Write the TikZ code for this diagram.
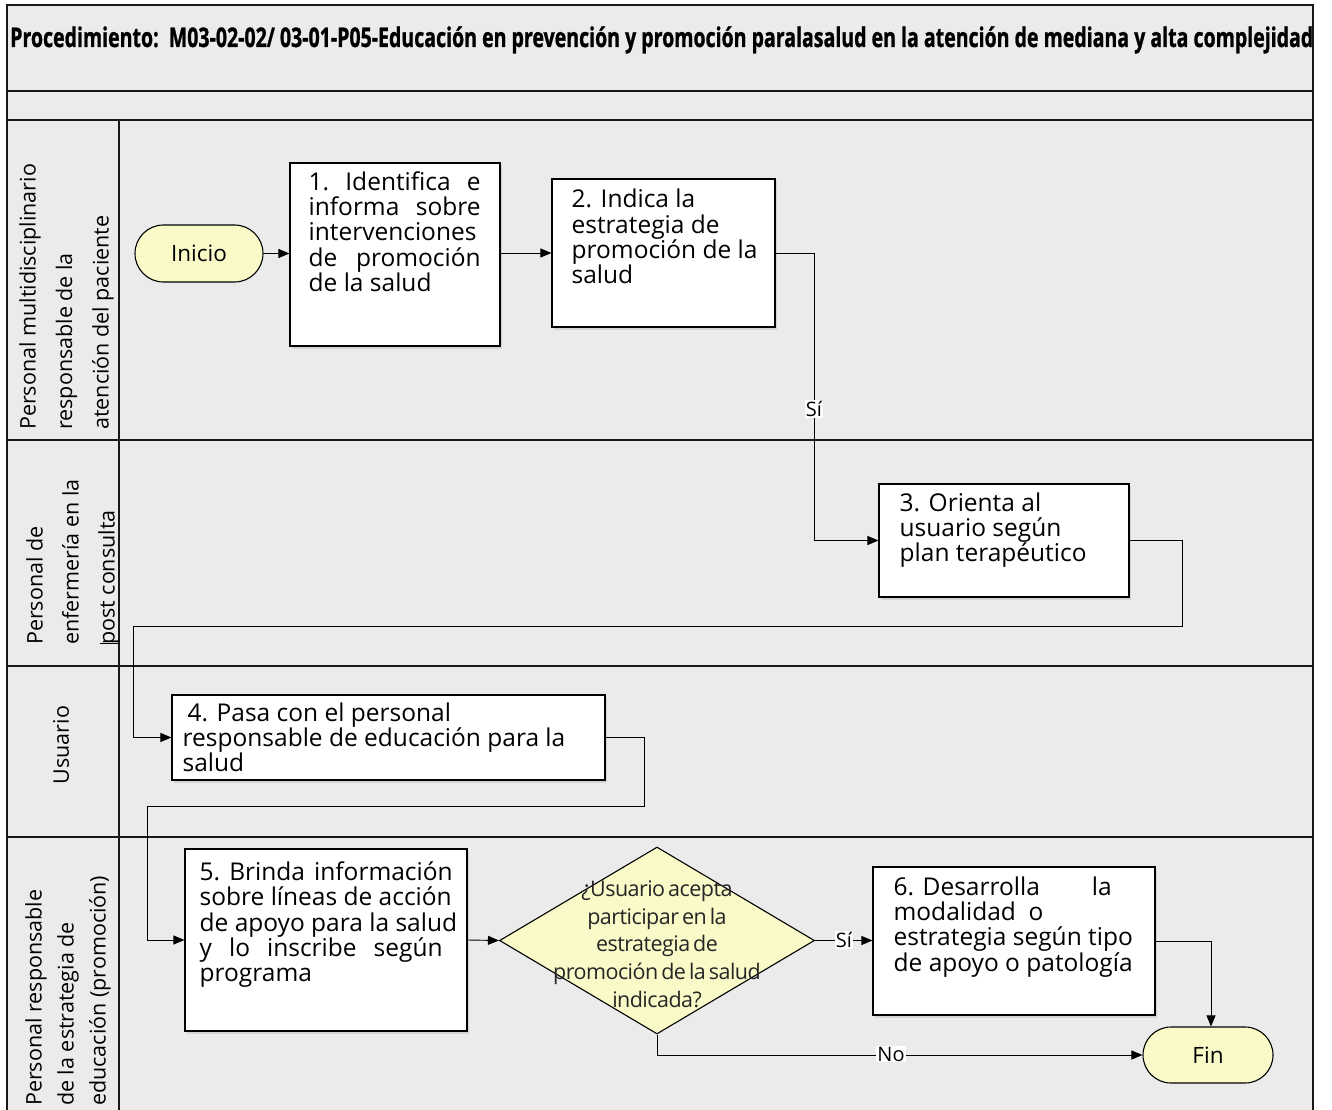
\documentclass[tikz,border=0pt]{standalone}
\usepackage{fontspec}
\setmainfont{Open Sans}
\newfontfamily\titlefont{Open Sans}[BoldFeatures={FakeBold=1.2}]
\newfontfamily\decfont{Open Sans}[LetterSpace=-2.5, WordSpace=0.6]
\usetikzlibrary{arrows.meta,shapes.geometric,shapes.misc,shadows,calc}
\definecolor{poolgray}{HTML}{EBEBEB}
\definecolor{termfill}{HTML}{F9FAC8}
% a line spread to a fixed width
\newcommand{\spreadline}[2]{\makebox[#1][l]{#2}}
\tikzset{
  pool/.style={line width=1.5pt, draw=black!90},
  stepbox/.style={rectangle, draw=black, line width=1.1pt, fill=white, inner sep=0pt,
    drop shadow={opacity=0.22, shadow xshift=2pt, shadow yshift=-2.5pt}},
  boxtext/.style={anchor=north west, inner sep=0pt, align=left,
    font=\fontsize{24.5}{25.3}\selectfont},
  terminal/.style={rounded rectangle, draw=black, line width=1.1pt, fill=termfill,
    minimum width=128pt, minimum height=57pt, inner sep=0pt,
    font=\fontsize{22.5}{24}\selectfont},
  decision/.style={diamond, draw=black, line width=1.1pt, fill=termfill,
    minimum width=315pt, minimum height=187pt, inner sep=0pt},
  flow/.style={draw=black, line width=0.9pt, -{Triangle[length=11pt,width=9pt]}},
  flowlabel/.style={fill=white, inner sep=1pt, font=\fontsize{20}{22}\selectfont},
  lanetext/.style={rotate=90, anchor=north west, inner sep=0pt, align=left},
}
\begin{document}
\begin{tikzpicture}[x=1pt,y=-1pt]
\useasboundingbox (0,0) rectangle (1332,1110);
\clip (0,0) rectangle (1332,1110);
\fill[white] (0,0) rectangle (1332,1110);

% pool and lanes
\fill[poolgray] (7,5) rectangle (1313,1130);
\draw[pool, line width=1.8pt] (7,1130) -- (7,5) -- (1313,5) -- (1313,1130);
\draw[pool] (7,91) -- (1313,91);
\draw[pool, line width=2pt] (7,120) -- (1313,120);
\draw[pool] (119,120) -- (119,1130);
\draw[pool] (7,440) -- (1313,440);
\draw[pool] (7,666) -- (1313,666);
\draw[pool] (7,837) -- (1313,837);

% title
\node[anchor=base west, inner sep=0pt] (title) at (10,47)
  {\resizebox{1303pt}{\height}{\titlefont\bfseries\fontsize{27}{29}\selectfont
   Procedimiento:\ \ M03-02-02/ 03-01-P05-Educación en prevención y promoción paralasalud en la atención de mediana y alta complejidad}};

% lane names
\node[lanetext, font=\fontsize{21.5}{36.5}\selectfont] (lane1) at (19,430)
  {Personal multidisciplinario\\responsable de la\\atención del paciente};
\node[lanetext, font=\fontsize{21.5}{36}\selectfont] (lane2) at (26,645)
  {Personal de\\enfermería en la\\post consulta};
\draw[line width=0.8pt] (100,643) -- (118,643);
\node[rotate=90, inner sep=0pt, font=\fontsize{21.5}{24}\selectfont] (lane3) at (61,745) {Usuario};
\node[lanetext, font=\fontsize{21.5}{32}\selectfont] (lane4) at (25,1106)
  {Personal responsable\\de la estrategia de\\educación (promoción)};

% shapes
\node[terminal] (ini) at (199,253.5) {Inicio};
\node[stepbox, minimum width=210pt, minimum height=183pt] (b1) at (395,254.5) {};
\node[stepbox, minimum width=223pt, minimum height=148pt] (b2) at (663.5,253) {};
\node[stepbox, minimum width=250pt, minimum height=113pt] (b3) at (1004,540.5) {};
\node[stepbox, minimum width=433pt, minimum height=85pt] (b4) at (388.5,737.5) {};
\node[stepbox, minimum width=282pt, minimum height=182pt] (b5) at (326,940) {};
\node[decision] (dec) at (657,940.5) {};
\node[stepbox, minimum width=282pt, minimum height=148pt] (b6) at (1014,941) {};
\node[terminal, minimum width=130pt, minimum height=56pt] (fin) at (1208,1055) {Fin};

% step texts
\node[boxtext] (t1) at ($(b1.north west)+(19,9)$)
  {\spreadline{172pt}{1.\hfill Identifica\hfill e}\\
   \spreadline{172pt}{informa\hfill sobre}\\
   intervenciones\\
   \spreadline{172pt}{de\hfill promoción}\\
   de la salud};
\node[boxtext] (t2) at ($(b2.north west)+(20,10.5)$)
  {2. Indica la\\estrategia de\\promoción de la\\salud};
\node[boxtext] (t3) at ($(b3.north west)+(21,9)$)
  {3. Orienta al\\usuario según\\plan terapéutico};
\node[boxtext] (t4) at ($(b4.north west)+(11,8)$)
  {\hspace*{5pt}4. Pasa con el personal\\responsable de educación para la\\salud};
\node[boxtext] (t5) at ($(b5.north west)+(15,13)$)
  {\spreadline{253pt}{5.\hfill Brinda\hfill información}\\
   sobre líneas de acción\\
   de apoyo para la salud\\
   \spreadline{243pt}{y\hfill lo\hfill inscribe\hfill según}\\
   programa};
\node[boxtext] (t6) at ($(b6.north west)+(21,10)$)
  {\spreadline{218pt}{6. Desarrolla\hfill la}\\
   modalidad\ \ o\\
   estrategia según tipo\\
   de apoyo o patología};
\node[align=center, inner sep=0pt, text=black!85,
  font=\decfont\fontsize{21.5}{27.7}\selectfont] (dtext) at (657,944)
  {¿Usuario acepta\\participar en la\\estrategia de\\promoción de la salud\\indicada?};

% connectors
\draw[flow] (ini) -- (ini -| b1.west);
\draw[flow] (b2.west -| b1.east) -- (b2.west);
\draw[flow] (b2.east) -- ++(39,0) |- (b3.west);
\draw[flow] (b3.east) -- ++(53,0) |- (133,626) |- (b4.west);
\draw[flow] (b4.east) -- ++(39,0) |- (147,806) |- (b5.west);
\draw[flow] (b5.east) -- (dec.west);
\draw[flow] (dec.east) -- (dec.east -| b6.west);
\draw[flow] (b6.east) -| ($(fin.north)+(3,0)$);
\draw[flow] (dec.south) |- (fin.west);

% connector labels
\node[flowlabel] (si1) at (814,409) {Sí};
\node[flowlabel] (si2) at (844,940) {Sí};
\node[flowlabel] (no1) at (891,1054) {No};
\end{tikzpicture}
\end{document}
